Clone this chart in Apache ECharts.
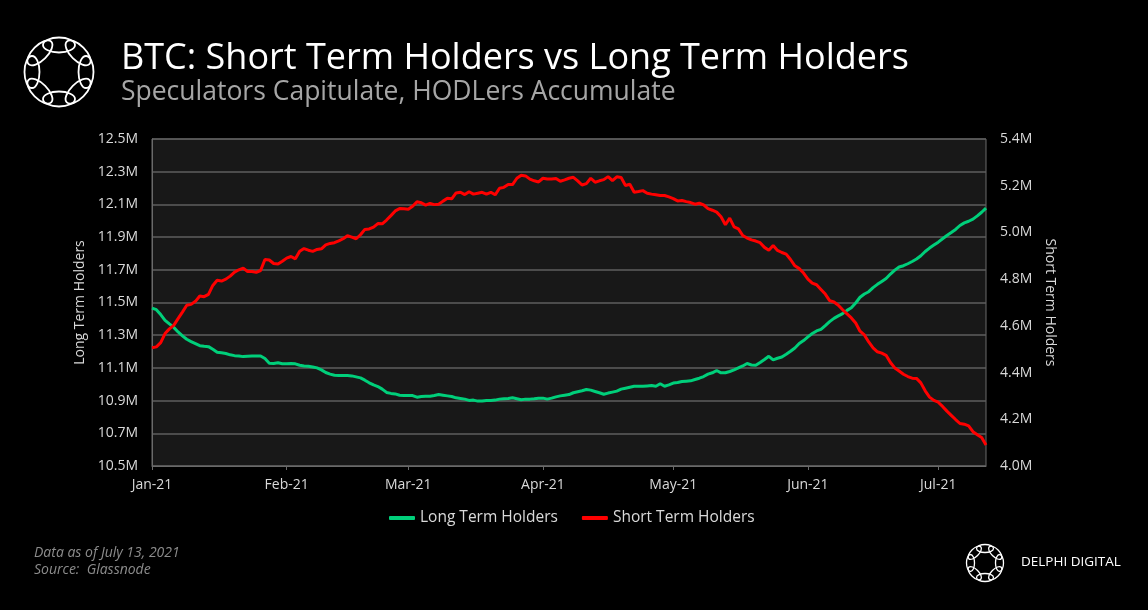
<!DOCTYPE html>
<html>
<head>
<meta charset="utf-8">
<script src="https://cdn.jsdelivr.net/npm/echarts@6/dist/echarts.min.js"></script>
<style>
html,body{margin:0;padding:0;background:#000;}
#chart{width:1148px;height:610px;}
</style>
</head>
<body>
<div id="chart"></div>
<script>
// ---- Data ----
const startDate = '2021-01-01';
const dayCount = 193; // Jan 1 .. Jul 12, 2021
const monthLabels = ['Jan-21','Feb-21','Mar-21','Apr-21','May-21','Jun-21','Jul-21'];
const leftTicks = [10.5,10.7,10.9,11.1,11.3,11.5,11.7,11.9,12.1,12.3,12.5];
const rightTicks = [4.0,4.2,4.4,4.6,4.8,5.0,5.2,5.4];

// Long Term Holders (millions of BTC), daily
const lthJan = [11.466,11.456,11.426,11.391,11.369,11.348,11.320,11.296,11.275,11.261,11.249,11.236,11.232,11.230,11.214,11.196,11.192,11.188,11.180,11.175,11.173,11.169,11.171,11.173,11.173,11.173,11.157,11.129,11.127,11.131,11.125];
const lthFeb = [11.126,11.127,11.125,11.116,11.112,11.110,11.106,11.100,11.088,11.072,11.062,11.055,11.053,11.053,11.053,11.051,11.045,11.039,11.025,11.009,10.996,10.986,10.970,10.950,10.944,10.941,10.933,10.931];
const lthMar = [10.931,10.931,10.921,10.925,10.927,10.927,10.931,10.937,10.933,10.929,10.925,10.917,10.913,10.909,10.901,10.903,10.897,10.897,10.901,10.901,10.903,10.909,10.911,10.913,10.917,10.911,10.905,10.909,10.909,10.911,10.915];
const lthApr = [10.915,10.909,10.915,10.923,10.929,10.933,10.937,10.948,10.954,10.960,10.968,10.964,10.956,10.948,10.939,10.946,10.952,10.958,10.970,10.976,10.982,10.988,10.988,10.988,10.990,10.992,10.988,11.003,10.988,10.996];
const lthMay = [11.007,11.011,11.017,11.019,11.021,11.029,11.037,11.047,11.062,11.070,11.084,11.070,11.070,11.078,11.088,11.100,11.112,11.127,11.118,11.116,11.133,11.151,11.171,11.149,11.159,11.167,11.184,11.202,11.222,11.249,11.267];
const lthJun = [11.290,11.310,11.326,11.336,11.359,11.383,11.403,11.418,11.432,11.452,11.468,11.497,11.532,11.552,11.566,11.591,11.611,11.629,11.647,11.674,11.698,11.717,11.725,11.737,11.751,11.766,11.786,11.812,11.833,11.851];
const lthJul = [11.869,11.890,11.910,11.928,11.947,11.971,11.987,11.997,12.010,12.030,12.052,12.077];

// Short Term Holders (millions of BTC), daily
const sthJan = [4.506,4.510,4.528,4.567,4.587,4.602,4.631,4.659,4.688,4.692,4.705,4.728,4.725,4.735,4.773,4.795,4.792,4.800,4.813,4.830,4.840,4.847,4.833,4.833,4.829,4.837,4.884,4.882,4.867,4.865,4.877];
const sthFeb = [4.890,4.897,4.887,4.919,4.931,4.924,4.919,4.927,4.930,4.947,4.953,4.956,4.964,4.973,4.986,4.980,4.973,4.990,5.013,5.015,5.023,5.038,5.037,5.053,5.072,5.092,5.102,5.101];
const sthMar = [5.099,5.112,5.131,5.127,5.117,5.124,5.119,5.121,5.134,5.146,5.144,5.169,5.172,5.162,5.174,5.164,5.168,5.172,5.164,5.172,5.161,5.189,5.193,5.205,5.205,5.232,5.245,5.242,5.228,5.221,5.216];
const sthApr = [5.232,5.229,5.229,5.231,5.219,5.225,5.232,5.236,5.221,5.203,5.209,5.232,5.215,5.221,5.226,5.239,5.222,5.238,5.235,5.201,5.206,5.172,5.175,5.179,5.168,5.164,5.161,5.158,5.158,5.152];
const sthMay = [5.145,5.135,5.137,5.132,5.128,5.121,5.125,5.118,5.102,5.095,5.087,5.067,5.033,5.061,5.024,5.015,4.987,4.976,4.968,4.963,4.956,4.936,4.924,4.944,4.923,4.914,4.907,4.884,4.857,4.845,4.826];
const sthJun = [4.800,4.783,4.776,4.756,4.736,4.708,4.702,4.688,4.669,4.651,4.634,4.612,4.577,4.561,4.531,4.506,4.489,4.483,4.474,4.443,4.420,4.407,4.393,4.383,4.376,4.375,4.356,4.322,4.295,4.281];
const sthJul = [4.273,4.255,4.235,4.217,4.199,4.182,4.179,4.172,4.147,4.134,4.122,4.090];

// ---- Build ----
const lthValues = [].concat(lthJan,lthFeb,lthMar,lthApr,lthMay,lthJun,lthJul);
const sthValues = [].concat(sthJan,sthFeb,sthMar,sthApr,sthMay,sthJun,sthJul);
const dates = [];
(function(){
  const d0 = new Date(startDate + 'T00:00:00Z');
  for (let i = 0; i < dayCount; i++) {
    const d = new Date(d0.getTime() + i * 86400000);
    dates.push(d.toISOString().slice(0,10));
  }
})();
const isMonthStart = (idx, val) => val.slice(8) === '01';
const fmtMonth = (val) => monthLabels[parseInt(val.slice(5,7),10) - 1];

function knot(cx, cy, R, rx, ry, lw) {
  const els = [];
  for (let k = 0; k < 8; k++) {
    const th = k * Math.PI / 4 - Math.PI / 2;
    els.push({
      type: 'ellipse',
      x: cx + R * Math.cos(th), y: cy + R * Math.sin(th),
      shape: { cx: 0, cy: 0, rx: rx, ry: ry },
      rotation: -(th + Math.PI / 2),
      style: { fill: null, stroke: '#ffffff', lineWidth: lw }
    });
  }
  return els;
}

const FONT = 'Open Sans';
const chart = echarts.init(document.getElementById('chart'), null, { renderer: 'canvas' });
const option = {
  backgroundColor: '#000000',
  animation: false,
  textStyle: { fontFamily: FONT },
  grid: {
    left: 152, right: 162, top: 139, bottom: 144,
    show: true, backgroundColor: '#181818', borderColor: '#6a6a6a', borderWidth: 1
  },
  legend: {
    left: 384, top: 505,
    icon: 'roundRect', itemWidth: 26, itemHeight: 4, itemGap: 24,
    textStyle: { color: '#d9d9d9', fontSize: 15.5, fontFamily: FONT },
    data: ['Long Term Holders', 'Short Term Holders']
  },
  xAxis: {
    type: 'category', data: dates, boundaryGap: false,
    axisLine: { lineStyle: { color: '#6a6a6a', width: 1 } },
    axisTick: { show: true, interval: isMonthStart, length: 4, lineStyle: { color: '#6a6a6a' } },
    axisLabel: { interval: isMonthStart, formatter: fmtMonth, color: '#d9d9d9', fontSize: 14, margin: 12, fontFamily: FONT },
    splitLine: { show: false }
  },
  yAxis: [
    {
      type: 'value', min: 10.5, max: 12.5, interval: 0.2, position: 'left',
      name: 'Long Term Holders', nameLocation: 'middle', nameRotate: 90, nameGap: 56,
      nameTextStyle: { color: '#d9d9d9', fontSize: 14, fontFamily: FONT },
      axisLine: { show: true, lineStyle: { color: '#6a6a6a' } },
      axisTick: { show: false },
      axisLabel: { color: '#d9d9d9', fontSize: 14, margin: 14, fontFamily: FONT, formatter: v => v.toFixed(1) + 'M' },
      splitLine: { show: true, lineStyle: { color: '#5e5e5e', width: 1.5 } }
    },
    {
      type: 'value', min: 4.0, max: 5.4, interval: 0.2, position: 'right',
      name: 'Short Term Holders', nameLocation: 'middle', nameRotate: -90, nameGap: 57,
      nameTextStyle: { color: '#d9d9d9', fontSize: 14, fontFamily: FONT },
      axisLine: { show: false },
      axisTick: { show: false },
      axisLabel: { color: '#d9d9d9', fontSize: 14, margin: 14, fontFamily: FONT, formatter: v => v.toFixed(1) + 'M' },
      splitLine: { show: false }
    }
  ],
  series: [
    {
      name: 'Long Term Holders', type: 'line', yAxisIndex: 0, data: lthValues,
      showSymbol: false, symbol: 'none', color: '#00cf7a',
      lineStyle: { width: 3, color: '#00cf7a' }
    },
    {
      name: 'Short Term Holders', type: 'line', yAxisIndex: 1, data: sthValues,
      showSymbol: false, symbol: 'none', color: '#ff0000',
      lineStyle: { width: 3, color: '#ff0000' }
    }
  ],
  graphic: [].concat(
    knot(59, 72, 27, 16, 7.5, 1.8),
    knot(985, 563, 14.5, 8.5, 4, 1.3),
    [
      { type: 'text', left: 121, top: 41, style: { text: 'BTC: Short Term Holders vs Long Term Holders', fill: '#ffffff', font: '36px "' + FONT + '"' } },
      { type: 'text', left: 121, top: 79, style: { text: 'Speculators Capitulate, HODLers Accumulate', fill: '#a6a6a6', font: '26.5px "' + FONT + '"' } },
      { type: 'text', left: 34, top: 546, style: { text: 'Data as of July 13, 2021', fill: '#8c8c8c', font: 'italic 14px "' + FONT + '"' } },
      { type: 'text', left: 34, top: 563, style: { text: 'Source:  Glassnode', fill: '#8c8c8c', font: 'italic 14px "' + FONT + '"' } },
      { type: 'text', left: 1021, top: 555, style: { text: 'DELPHI DIGITAL', fill: '#ffffff', font: '13.5px "' + FONT + '"' } }
    ]
  )
};
chart.setOption(option);
</script>
</body>
</html>
